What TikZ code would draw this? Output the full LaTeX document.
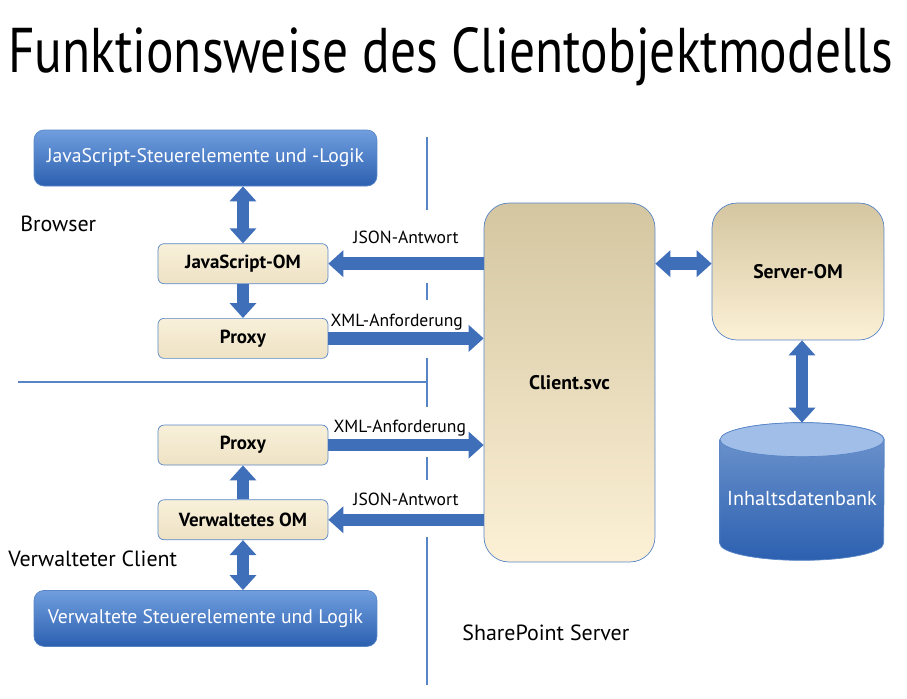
\documentclass[tikz,border=0pt]{standalone}
\usepackage{fontspec}
\setmainfont{PT Sans}
\usepackage{graphicx}
\usepackage{tikz}
\usetikzlibrary{calc,positioning,arrows.meta}

\definecolor{lineblue}{RGB}{88,133,198}
\definecolor{arrowblue}{RGB}{64,111,186}
\definecolor{bluetop}{RGB}{112,158,222}
\definecolor{bluebot}{RGB}{44,96,176}
\definecolor{creamtop}{RGB}{248,240,218}
\definecolor{creambot}{RGB}{238,226,196}
\definecolor{tantop}{RGB}{212,198,160}
\definecolor{tanmid}{RGB}{242,229,198}
\definecolor{creamlow}{RGB}{252,240,214}
\definecolor{dbtop}{RGB}{160,190,232}

\begin{document}
\begin{tikzpicture}[x=0.02cm, y=-0.02cm,
    bluebox/.style={draw=lineblue, rounded corners=0.2cm, top color=bluetop, bottom color=bluebot,
        text=white, font=\fontsize{11.2}{13}\selectfont, minimum width=6.86cm, minimum height=1.12cm},
    ombox/.style={draw=lineblue, rounded corners=0.12cm, top color=creamtop, bottom color=creambot,
        font=\fontsize{10.8}{12}\selectfont\bfseries, minimum width=3.4cm, minimum height=0.8cm},
    svcbox/.style={draw=lineblue, rounded corners=0.5cm, top color=tantop, middle color=tanmid, bottom color=creamlow,
        font=\fontsize{11.2}{13}\selectfont\bfseries, minimum width=3.42cm},
    fat/.style={line width=0.25cm, draw=arrowblue, -{Triangle[width=0.52cm, length=0.3cm]}},
    fatboth/.style={fat, {Triangle[width=0.52cm, length=0.3cm]}-{Triangle[width=0.52cm, length=0.3cm]}},
    lbl/.style={font=\fontsize{10}{12}\selectfont, inner sep=0pt},
    zone/.style={font=\fontsize{12.5}{14}\selectfont, inner sep=0pt},
    sep/.style={draw=lineblue, line width=0.6pt}]

    \useasboundingbox (0,0) rectangle (907,698);

    \node [anchor=base, inner sep=0pt] (title) at (450.5,72) {\resizebox{17.7cm}{0.9cm}{Funktionsweise des Clientobjektmodells}};

    % separators
    \draw[sep] (18,382) -- (427,382);
    \draw[sep] (427,137) -- (427,210);
    \draw[sep] (427,283) -- (427,300);
    \draw[sep] (427,358) -- (427,407);
    \draw[sep] (427,457) -- (427,480);
    \draw[sep] (427,537) -- (427,685);

    % client side
    \node [bluebox] (js_ctl) at (205.5,158) {JavaScript-Steuerelemente und -Logik};
    \node [ombox, below=1.14cm of js_ctl, xshift=0.75cm] (js_om) {JavaScript-OM};
    \node [ombox, below=0.68cm of js_om] (proxy_top) {Proxy};
    \node [ombox, below=1.32cm of proxy_top] (proxy_low) {Proxy};
    \node [ombox, below=0.68cm of proxy_low] (managed_om) {Verwaltetes OM};
    \node [bluebox, below=1.0cm of managed_om, xshift=-0.75cm] (managed_ctl) {Verwaltete Steuerelemente und Logik};

    \node [zone, anchor=base west] (browser) at (20,231) {Browser};
    \node [zone, anchor=base west] (managed_client) at (8,566) {Verwalteter Client};
    \node [zone, anchor=base west] (sp_server) at (462,640) {SharePoint Server};

    % server side
    \node [svcbox, minimum height=7.18cm] (svc) at (569.5,382.5) {Client.svc};
    \node [svcbox, minimum width=3.44cm, minimum height=2.74cm] (server_om) at (798,271.5) {Server-OM};
    \node [minimum width=3.28cm, minimum height=2.74cm] (db) at (802,491.5) {};
    \shade[top color=lineblue!85!white, bottom color=bluebot, draw=lineblue]
        ($(db.north west)+(0,-0.34cm)$) -- ($(db.south west)+(0,0.34cm)$)
        arc[start angle=180, end angle=360, x radius=1.64cm, y radius=0.34cm]
        -- ($(db.north east)+(0,-0.34cm)$)
        arc[start angle=0, end angle=180, x radius=1.64cm, y radius=0.34cm] -- cycle;
    \filldraw[fill=dbtop, draw=lineblue] ($(db.north)+(0,-0.34cm)$) ellipse[x radius=1.64cm, y radius=0.34cm];
    \node [text=white, font=\fontsize{11.5}{13}\selectfont] at ($(db.center)+(0,-0.14cm)$) {Inhaltsdatenbank};

    % connectors
    \draw[fatboth] (js_ctl.south -| js_om.north) -- (js_om.north);
    \draw[fat] (js_om) -- (proxy_top);
    \draw[fat] (svc.west |- js_om.east) -- node[lbl, anchor=base, yshift=0.4cm] {JSON-Antwort} (js_om.east);
    \draw[fat] (proxy_top.east) -- node[lbl, anchor=base, pos=0.44, yshift=0.24cm] {XML-Anforderung} (svc.west |- proxy_top.east);
    \draw[fat] (proxy_low.east) -- node[lbl, anchor=base, pos=0.46, yshift=0.26cm] {XML-Anforderung} (svc.west |- proxy_low.east);
    \draw[fat] (svc.west |- managed_om.east) -- node[lbl, anchor=base, yshift=0.28cm] {JSON-Antwort} (managed_om.east);
    \draw[fat] (managed_om) -- (proxy_low);
    \draw[fatboth] (managed_om.south) -- (managed_ctl.north -| managed_om.south);
    \draw[fatboth] (svc.east |- js_om.east) -- (server_om.west |- js_om.east);
    \draw[fatboth] (server_om.south -| db.north) -- (db.north);

\end{tikzpicture}
\end{document}
